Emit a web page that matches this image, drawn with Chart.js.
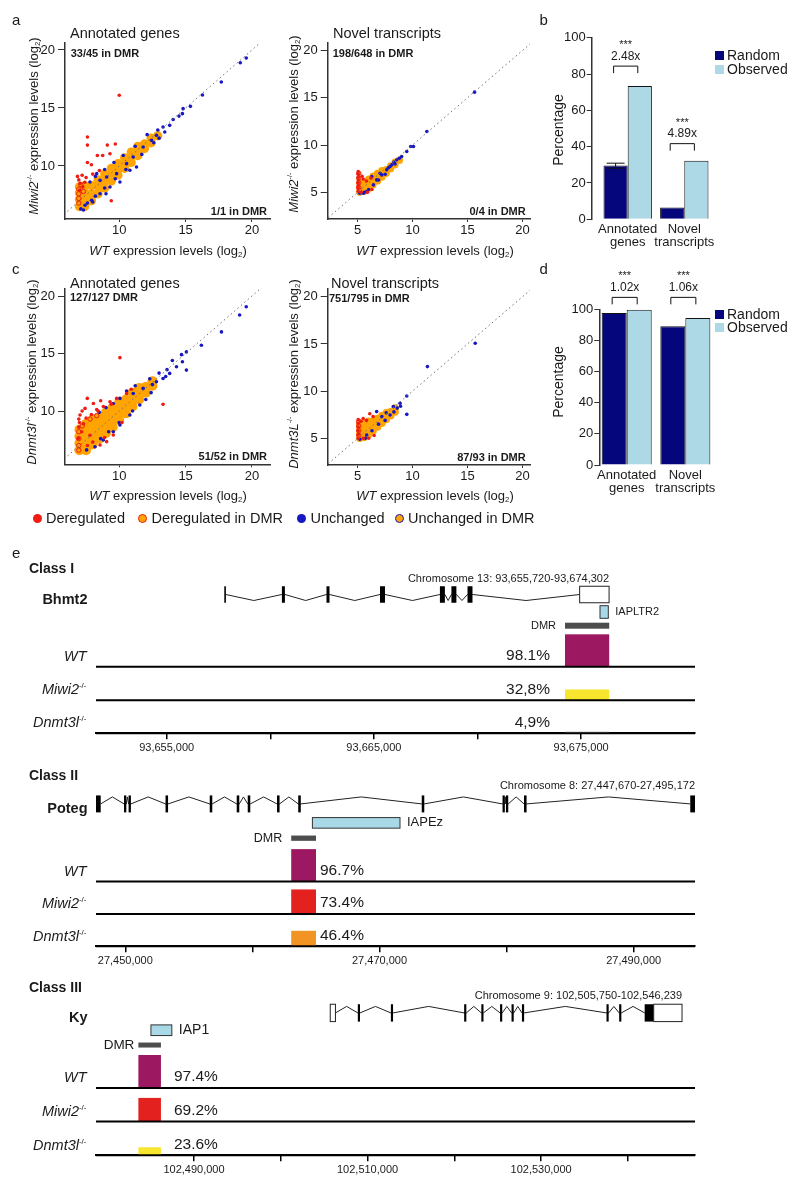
<!DOCTYPE html>
<html>
<head>
<meta charset="utf-8">
<title>Expression and DMR methylation</title>
<script src="https://cdn.jsdelivr.net/npm/chart.js@4.4.1/dist/chart.umd.min.js"></script>
<style>
  body { margin: 0; background: #fff; }
  #page { position: relative; width: 800px; height: 1187px; overflow: hidden;
          font-family: "Liberation Sans", Arial, sans-serif; color: #1a1a1a; }
  #page canvas { position: absolute; }
  .t { position: absolute; white-space: nowrap; line-height: 1; }
  .t sup { font-size: 0.55em; vertical-align: 0.75em; line-height: 0; font-style: normal; }
  .t sub { font-size: 0.6em; vertical-align: -0.3em; line-height: 0; }
  .sq { position: absolute; width: 9px; height: 9px; }
  .dot { position: absolute; width: 9px; height: 9px; border-radius: 50%; box-sizing: border-box; }
</style>
</head>
<body>
<div id="page"></div>
<script>
const FONT = '"Liberation Sans", Arial, sans-serif';
const INK = '#1a1a1a';
const RED = '#f01c14', ORANGE = '#ffa400', BLUE = '#1717c4';
const NAVY = '#06067c', LIGHT = '#add8e6', REPEAT = '#a9d8e7';

// ---------- a / c : log2 expression, [WT, mutant] ----------
const annotMiwiDereg = [
  [10.0, 16.1], [7.6, 12.5], [7.6, 11.8], [9.1, 11.8], [9.7, 11.9], [9.3, 11.05],
  [8.35, 10.9], [8.75, 10.9], [7.6, 10.3], [7.9, 10.1], [7.2, 9.2], [6.85, 9.1],
  [9.4, 7.0], [7.05, 8.5], [7.4, 8.6], [7.0, 7.9], [7.25, 8.2], [8.0, 9.3],
  [7.5, 9.0], [6.95, 8.8], [8.5, 9.6]
];
const annotMiwiDeregDmr = [[6.95, 6.8], [6.95, 7.2], [6.95, 7.6], [6.95, 8.0], [7.1, 8.4], [7.3, 7.8]];
const annotMiwiUnch = [
  [19.57, 19.31], [19.12, 18.9], [17.69, 17.24], [16.27, 16.12], [14.81, 14.94], [15.36, 15.14],
  [14.76, 14.51], [14.06, 14.0], [13.3, 13.36], [13.43, 12.93], [12.8, 12.64], [12.43, 12.21],
  [11.8, 11.64], [11.05, 10.78], [10.55, 10.2], [9.8, 9.34], [9.05, 9.05], [8.55, 8.76],
  [11.3, 9.91], [10.8, 9.63], [10.05, 8.62], [9.3, 8.19], [8.55, 7.61], [7.92, 7.04],
  [7.42, 6.61], [8.3, 9.34], [7.79, 8.62], [12.1, 12.7], [12.9, 13.1], [13.8, 13.5],
  [11.2, 11.7], [10.3, 10.9], [9.6, 10.3], [8.9, 9.7], [8.2, 9.1], [10.5, 9.7],
  [11.7, 11.0], [12.6, 12.0], [9.7, 8.9], [8.9, 8.1], [8.2, 7.4], [7.6, 6.8],
  [7.1, 6.3], [7.3, 6.2], [8.0, 6.9], [14.5, 14.3], [13.0, 12.4], [9.0, 7.6]
];
const annotMiwiUnchDmr = [
  [7.0, 6.5], [7.0, 7.1], [7.0, 7.7], [7.0, 8.2], [7.4, 6.5], [7.4, 7.1], [7.4, 7.7], [7.4, 8.3],
  [7.9, 7.0], [7.9, 7.6], [7.9, 8.3], [8.4, 7.6], [8.4, 8.2], [8.4, 8.8], [8.9, 8.1], [8.9, 8.7],
  [8.9, 9.3], [9.4, 8.7], [9.4, 9.2], [9.4, 9.8], [9.9, 9.2], [9.9, 9.7], [9.9, 10.2], [10.4, 9.8],
  [10.4, 10.3], [10.4, 10.7], [10.9, 10.3], [10.9, 10.8], [10.9, 11.2], [11.4, 10.9], [11.4, 11.3],
  [11.4, 11.7], [11.9, 11.5], [11.9, 11.9], [12.4, 12.0], [12.4, 12.4], [12.9, 12.6]
];

const novelMiwiDereg = [
  [5.05, 7.2], [5.05, 6.9], [5.05, 6.6], [5.05, 6.3], [5.05, 6.0], [5.05, 5.7], [5.05, 5.4],
  [5.05, 5.1], [5.4, 6.7], [5.5, 6.4], [5.8, 6.2], [6.2, 6.5], [5.3, 5.0], [5.9, 5.0], [6.3, 5.3]
];
const novelMiwiDeregDmr = [[5.1, 7.0], [5.1, 6.5], [5.1, 6.0], [5.1, 5.5], [5.15, 5.2]];
const novelMiwiUnch = [
  [15.64, 15.6], [11.3, 11.43], [10.08, 9.84], [9.83, 9.84], [9.47, 9.31], [9.0, 8.78],
  [8.56, 8.43], [8.1, 7.9], [7.64, 7.37], [7.19, 6.84], [6.73, 6.31], [6.43, 5.78],
  [5.82, 5.07], [5.52, 4.9], [5.2, 4.9], [7.95, 7.72], [7.04, 7.0], [6.28, 6.66],
  [8.4, 8.0], [8.8, 8.6], [7.5, 6.9], [6.9, 6.3], [6.0, 5.3], [5.6, 5.0], [7.8, 7.6], [8.3, 8.2]
];
const novelMiwiUnchDmr = [
  [5.2, 5.0], [5.2, 5.5], [5.2, 6.0], [5.6, 5.1], [5.6, 5.6], [5.6, 6.1], [6.0, 5.4], [6.0, 5.9],
  [6.0, 6.4], [6.4, 5.8], [6.4, 6.3], [6.4, 6.7], [6.8, 6.2], [6.8, 6.7], [6.8, 7.0], [7.2, 6.6],
  [7.2, 7.0], [7.2, 7.3], [7.6, 7.0], [7.6, 7.4], [8.0, 7.5], [8.0, 7.8], [8.4, 7.9], [8.4, 8.2], [8.8, 8.4]
];

const annotDnmtDereg = [
  [10.05, 14.64], [7.59, 11.1], [8.3, 10.14], [10.55, 11.53], [13.3, 10.58], [7.04, 9.65],
  [9.8, 11.1], [9.3, 10.8], [8.8, 10.4], [7.3, 8.9], [7.17, 8.2], [6.92, 7.62], [7.79, 7.9],
  [9.05, 7.34], [8.55, 7.05], [9.55, 7.92], [7.42, 10.23], [8.05, 10.66], [7.0, 9.0],
  [7.5, 9.4], [7.9, 9.7], [8.4, 10.0], [7.2, 10.0], [6.95, 8.6], [6.95, 9.3], [8.0, 7.3],
  [8.9, 7.7], [10.2, 9.0], [7.6, 7.0], [9.4, 10.6], [8.6, 10.9], [10.9, 11.9]
];
const annotDnmtDeregDmr = [[6.95, 6.6], [6.95, 7.0], [6.95, 7.6], [6.95, 8.2], [7.2, 8.7], [7.8, 9.3], [8.3, 9.6]];
const annotDnmtUnch = [
  [19.07, 18.35], [19.57, 19.07], [17.7, 16.88], [16.19, 15.72], [15.06, 15.14], [14.69, 14.9],
  [14.76, 14.28], [15.06, 13.56], [14.31, 13.85], [13.8, 13.27], [13.3, 12.83], [12.8, 12.55],
  [11.8, 11.97], [11.05, 11.53], [11.55, 10.52], [10.8, 9.65], [10.05, 8.78], [9.55, 8.2],
  [8.8, 7.48], [8.17, 6.9], [7.54, 6.62], [10.55, 11.74], [10.05, 11.1], [9.55, 10.66],
  [12.3, 12.8], [13.0, 13.3], [12.4, 11.6], [13.6, 13.6], [11.2, 12.2], [12.0, 11.0],
  [9.0, 10.3], [8.5, 9.9], [10.0, 9.0], [11.0, 10.0], [9.2, 8.2], [8.6, 7.6], [12.5, 12.3],
  [14.0, 14.4], [13.5, 13.0]
];
const annotDnmtUnchDmr = [
  [7.0, 6.6], [7.0, 7.2], [7.0, 7.8], [7.0, 8.4], [7.5, 6.6], [7.5, 7.2], [7.5, 7.8], [7.5, 8.4],
  [7.5, 8.9], [8.0, 7.1], [8.0, 7.7], [8.0, 8.3], [8.0, 8.9], [8.0, 9.3], [8.5, 7.6], [8.5, 8.2],
  [8.5, 8.8], [8.5, 9.4], [9.0, 8.1], [9.0, 8.7], [9.0, 9.3], [9.0, 9.9], [9.5, 8.6], [9.5, 9.2],
  [9.5, 9.8], [9.5, 10.3], [10.0, 9.2], [10.0, 9.8], [10.0, 10.4], [10.0, 10.8], [10.5, 9.8],
  [10.5, 10.4], [10.5, 11.0], [11.0, 10.4], [11.0, 11.0], [11.0, 11.6], [11.5, 11.0], [11.5, 11.5],
  [11.5, 12.0], [12.0, 11.6], [12.0, 12.1], [12.5, 12.2], [12.5, 12.6]
];

const novelDnmtDereg = [
  [5.5, 7.1], [6.4, 7.3], [6.1, 7.6], [5.8, 6.9], [5.05, 7.0], [5.05, 6.6], [5.05, 6.2],
  [5.05, 5.8], [5.05, 5.4], [5.05, 5.0], [5.5, 5.0], [6.0, 5.0], [6.5, 5.3], [5.3, 6.8]
];
const novelDnmtDeregDmr = [[5.1, 6.8], [5.1, 6.3], [5.1, 5.8], [5.1, 5.3]];
const novelDnmtUnch = [
  [15.7, 15.07], [11.35, 12.6], [9.47, 9.49], [9.47, 7.54], [8.86, 8.71], [8.25, 8.36],
  [7.95, 7.47], [6.73, 7.83], [5.82, 5.35], [8.6, 8.2], [7.6, 7.7], [7.2, 7.3], [8.9, 8.4],
  [6.9, 6.5], [7.5, 6.9], [6.3, 5.8], [5.2, 4.9], [5.7, 5.0], [8.3, 7.8]
];
const novelDnmtUnchDmr = [
  [5.2, 5.0], [5.2, 5.5], [5.2, 6.0], [5.2, 6.5], [5.6, 5.1], [5.6, 5.6], [5.6, 6.1], [5.6, 6.6],
  [6.0, 5.4], [6.0, 5.9], [6.0, 6.4], [6.0, 6.8], [6.4, 5.8], [6.4, 6.3], [6.4, 6.8], [6.8, 6.2],
  [6.8, 6.7], [6.8, 7.1], [7.2, 6.6], [7.2, 7.0], [7.2, 7.4], [7.6, 7.0], [7.6, 7.4], [7.6, 7.7],
  [8.0, 7.4], [8.0, 7.8], [8.4, 7.8], [8.4, 8.2]
];

const diagEnds = [2, 22];
const annotTicks = [10, 15, 20];
const novelTicks = [5, 10, 15, 20];

// ---------- b / d : % in DMR, random vs observed ----------
const barCats = [['Annotated', 'genes'], ['Novel', 'transcripts']];
const pctTicks = [0, 20, 40, 60, 80, 100];
const miwiRandom = [29.6, 6.5];
const miwiRandomErr = [[28.1, 30.9], null];
const miwiObserved = [73.4, 32.2];
const miwiRatio = ['2.48x', '4.89x'];
const dnmtRandom = [97.8, 89.3];
const dnmtRandomErr = [null, null];
const dnmtObserved = [99.8, 94.6];
const dnmtRatio = ['1.02x', '1.06x'];
const sigMarks = ['***', '***'];

// ---------- e : gene models and DMR methylation ----------
const rowNames = ['<i>WT</i>', '<i>Miwi2</i><sup>-/-</sup>', '<i>Dnmt3l</i><sup>-/-</sup>'];

const bhmt2Exons = [[93657780, 93657850], [93660560, 93660705], [93662712, 93662857], [93665295, 93665535],
  [93668186, 93668426], [93668741, 93668981], [93669518, 93669758]];
const bhmt2Utr = [[93674930, 93676350]];
const bhmt2Repeat = [93675912, 93676313];
const bhmt2Dmr = [93674223, 93676356];
const bhmt2Meth = [98.1, 32.8, 4.9];
const bhmt2MethText = ['98.1%', '32,8%', '4,9%'];
const bhmt2Ticks = [93655000, 93660000, 93665000, 93670000, 93675000];
const bhmt2Labelled = [93655000, 93665000, 93675000];

const potegExons = [[27447695, 27448065], [27449900, 27450080], [27450260, 27450440], [27453165, 27453365],
  [27456643, 27456843], [27458767, 27458967], [27459633, 27459833], [27461938, 27462138],
  [27463606, 27463806], [27473323, 27473523], [27479680, 27479860], [27479950, 27480130],
  [27481371, 27481571], [27494450, 27494823]];
const potegUtr = [];
const potegRepeat = [27464721, 27471613];
const potegDmr = [27463053, 27465004];
const potegMeth = [96.7, 73.4, 46.4];
const potegMethText = ['96.7%', '73.4%', '46.4%'];
const potegTicks = [27450000, 27460000, 27470000, 27480000, 27490000];
const potegLabelled = [27450000, 27470000, 27490000];

const kyExons = [[102508878, 102509128], [102512688, 102512938], [102521133, 102521383],
  [102523111, 102523361], [102525270, 102525520], [102526593, 102526843], [102527791, 102528041],
  [102537536, 102537786], [102538995, 102539245], [102541934, 102542974]];
const kyUtr = [[102505700, 102506300], [102542974, 102546239]];
const kyRepeat = [102485037, 102487445];
const kyDmr = [102483590, 102486190];
const kyMeth = [97.4, 69.2, 23.6];
const kyMethText = ['97.4%', '69.2%', '23.6%'];
const kyTicks = [102490000, 102500000, 102510000, 102520000, 102530000, 102540000];
const kyLabelled = [102490000, 102510000, 102530000];

// ---------- helpers ----------
const page = document.getElementById('page');

function canvasAt(left, top, w, h) {
  const c = document.createElement('canvas');
  c.width = w; c.height = h;
  c.style.left = left + 'px'; c.style.top = top + 'px';
  c.style.width = w + 'px'; c.style.height = h + 'px';
  page.appendChild(c);
  return c;
}

function text(html, x, y, o = {}) {
  const d = document.createElement('div');
  d.className = 't';
  d.innerHTML = html;
  d.style.left = x + 'px';
  d.style.top = y + 'px';
  d.style.fontSize = (o.size || 14) + 'px';
  if (o.bold) d.style.fontWeight = 'bold';
  if (o.italic) d.style.fontStyle = 'italic';
  const ax = o.align === 'right' ? '-100%' : o.align === 'center' ? '-50%' : '0';
  d.style.transform = `translate(${ax},-50%)` + (o.rotate ? ` rotate(${o.rotate}deg)` : '');
  page.appendChild(d);
}

function box(cls, x, y, color, border) {
  const d = document.createElement('div');
  d.className = cls;
  d.style.left = x + 'px';
  d.style.top = y + 'px';
  d.style.background = color;
  if (border) d.style.border = '1.6px solid ' + border;
  page.appendChild(d);
}

const pts = arr => arr.map(([x, y]) => ({ x, y }));
const base = { animation: false, responsive: false, devicePixelRatio: 1, events: [] };
const noPlugins = { legend: { display: false }, tooltip: { enabled: false } };

function linAxis(range, ticks, fit, tickLength, padding) {
  return {
    type: 'linear', min: range[0], max: range[1],
    afterBuildTicks: s => { s.ticks = ticks.map(v => ({ value: v })); },
    afterFit: fit,
    ticks: { font: { family: FONT, size: 13 }, color: INK, padding, maxRotation: 0, autoSkip: false },
    grid: { drawOnChartArea: false, tickLength, color: '#333', lineWidth: 1 },
    border: { color: '#333', width: 1.5 }
  };
}

// ---------- scatter panels ----------
function scatterPanel(p) {
  const [cl, ct, cw, ch] = p.box;
  const [al, at, ar, ab] = p.area;
  new Chart(canvasAt(cl, ct, cw, ch), {
    type: 'scatter',
    data: {
      datasets: [
        { type: 'line', data: diagEnds.map(v => ({ x: v, y: v })), borderColor: '#707070',
          borderWidth: 1, borderDash: [1.5, 3], pointRadius: 0 },
        { data: pts(p.dereg), backgroundColor: RED, pointRadius: 1.8, borderWidth: 0 },
        { data: pts(p.deregDmr), backgroundColor: ORANGE, borderColor: RED, pointRadius: 2.2, borderWidth: 1 },
        { data: pts(p.unch), backgroundColor: BLUE, pointRadius: 1.8, borderWidth: 0 },
        { data: pts(p.unchDmr), backgroundColor: ORANGE, pointRadius: p.bandR, borderWidth: 0 }
      ]
    },
    options: {
      ...base,
      layout: { padding: { left: 0, top: at - ct, right: cl + cw - ar, bottom: 0 } },
      plugins: noPlugins,
      scales: {
        x: linAxis(p.xr, p.ticks, s => { s.height = ct + ch - ab; }, 3, 1),
        y: linAxis(p.yr, p.ticks, s => { s.width = al - cl; }, 7, 3)
      }
    }
  });
}

scatterPanel({ box: [0, 0, 280, 245], area: [65, 43, 270, 219], xr: [5.91, 21.36], yr: [5.43, 20.6],
  ticks: annotTicks, bandR: 4.6,
  dereg: annotMiwiDereg, deregDmr: annotMiwiDeregDmr, unch: annotMiwiUnch, unchDmr: annotMiwiUnchDmr });
scatterPanel({ box: [262, 0, 275, 245], area: [327.7, 43, 530, 219], xr: [2.27, 20.69], yr: [2.17, 20.8],
  ticks: novelTicks, bandR: 3.6,
  dereg: novelMiwiDereg, deregDmr: novelMiwiDeregDmr, unch: novelMiwiUnch, unchDmr: novelMiwiUnchDmr });
scatterPanel({ box: [0, 245, 280, 245], area: [65, 288.3, 270, 464.3], xr: [5.91, 21.36], yr: [5.37, 20.67],
  ticks: annotTicks, bandR: 5,
  dereg: annotDnmtDereg, deregDmr: annotDnmtDeregDmr, unch: annotDnmtUnch, unchDmr: annotDnmtUnchDmr });
scatterPanel({ box: [262, 245, 275, 245], area: [327.7, 288.3, 530, 465], xr: [2.27, 20.69], yr: [2.17, 20.9],
  ticks: novelTicks, bandR: 3.8,
  dereg: novelDnmtDereg, deregDmr: novelDnmtDeregDmr, unch: novelDnmtUnch, unchDmr: novelDnmtUnchDmr });

// ---------- bar panels ----------
function drawBarDecor(chart, p) {
  const ctx = chart.ctx, y = chart.scales.y;
  const rnd = chart.getDatasetMeta(0).data, obs = chart.getDatasetMeta(1).data;
  ctx.save();
  ctx.strokeStyle = '#111';
  ctx.lineWidth = 1;
  p.err.forEach((e, i) => {
    if (!e) return;
    const x = rnd[i].x, y1 = y.getPixelForValue(e[0]), y2 = y.getPixelForValue(e[1]);
    ctx.beginPath();
    ctx.moveTo(x, y1); ctx.lineTo(x, y2);
    ctx.moveTo(x - 9, y1); ctx.lineTo(x + 9, y1);
    ctx.moveTo(x - 9, y2); ctx.lineTo(x + 9, y2);
    ctx.stroke();
  });
  ctx.fillStyle = INK;
  ctx.textAlign = 'center';
  ctx.textBaseline = 'middle';
  p.ratio.forEach((label, i) => {
    const x1 = rnd[i].x - 2, x2 = obs[i].x - 2;
    const yb = y.getPixelForValue(p.bracketAt[i]), yt = yb - 7;
    ctx.beginPath();
    ctx.moveTo(x1, yb); ctx.lineTo(x1, yt); ctx.lineTo(x2, yt); ctx.lineTo(x2, yb);
    ctx.stroke();
    ctx.font = `12px ${FONT}`;
    ctx.fillText(label, (x1 + x2) / 2, yt - 9.5);
    ctx.font = `11px ${FONT}`;
    ctx.fillText(sigMarks[i], (x1 + x2) / 2, yt - 21);
  });
  ctx.restore();
}

function barPanel(p) {
  const [cl, ct, cw, ch] = p.box;
  const [al, at, ar, ab] = p.area;
  const ds = (vals, color) => ({
    data: vals.map((v, i) => ({ x: i, y: v })), backgroundColor: color, borderColor: '#111',
    borderWidth: 1, barPercentage: 1, categoryPercentage: p.catPct
  });
  new Chart(canvasAt(cl, ct, cw, ch), {
    type: 'bar',
    data: { datasets: [ds(p.random, NAVY), ds(p.observed, LIGHT)] },
    options: {
      ...base,
      layout: { padding: { left: 0, top: at - ct, right: cl + cw - ar, bottom: 0 } },
      plugins: noPlugins,
      scales: {
        x: {
          type: 'linear', min: p.xr[0], max: p.xr[1], offset: false,
          afterBuildTicks: s => { s.ticks = barCats.map((_, i) => ({ value: i })); },
          afterFit: s => { s.height = ct + ch - ab; },
          ticks: { callback: v => barCats[v], font: { family: FONT, size: 13, lineHeight: 1.0 },
                   color: INK, padding: 4, maxRotation: 0, autoSkip: false },
          grid: { display: false, drawTicks: false, tickLength: 0, offset: false }, border: { display: false }
        },
        y: linAxis([0, 100], pctTicks, s => { s.width = al - cl; }, 5, 1)
      }
    },
    plugins: [{ id: 'barDecor', afterDatasetsDraw: chart => drawBarDecor(chart, p) }]
  });
}

barPanel({ box: [540, 0, 260, 260], area: [591.7, 37.7, 720, 219.3], xr: [-0.636, 1.631], catPct: 0.855,
  random: miwiRandom, observed: miwiObserved, err: miwiRandomErr, ratio: miwiRatio, bracketAt: [80.5, 37.8] });
barPanel({ box: [540, 250, 260, 255], area: [599.3, 309.5, 720, 465], xr: [-0.467, 1.591], catPct: 0.853,
  random: dnmtRandom, observed: dnmtObserved, err: dnmtRandomErr, ratio: dnmtRatio, bracketAt: [103.3, 103.3] });

// ---------- gene / methylation tracks ----------
function methColor(pct) {
  if (pct >= 90) return '#9c1860';
  if (pct >= 60) return '#e3221f';
  if (pct >= 40) return '#f29424';
  if (pct >= 10) return '#f7e52e';
  return '#a8a8a8';
}

function drawTrack(chart, g) {
  const ctx = chart.ctx, xs = chart.scales.x, ys = chart.scales.y, L = g.layout;
  const X = v => xs.getPixelForValue(v), Y = v => ys.getPixelForValue(v);
  const left = chart.chartArea.left, right = chart.chartArea.right;
  const rect = (s, e, y0, y1) => [X(s), Y(y0), Math.max(1.6, X(e) - X(s)), Y(y1) - Y(y0)];
  ctx.save();
  // methylation bars on each row
  g.meth.forEach((pct, i) => {
    ctx.fillStyle = methColor(pct);
    ctx.fillRect(...rect(g.dmr[0], g.dmr[1], L.rows[i] - pct * L.barPx / 100, L.rows[i]));
  });
  ctx.strokeStyle = '#000';
  ctx.lineWidth = 2;
  L.rows.forEach(r => {
    ctx.beginPath(); ctx.moveTo(left, Y(r)); ctx.lineTo(right, Y(r)); ctx.stroke();
  });
  ctx.fillStyle = INK;
  ctx.textBaseline = 'middle';
  ctx.font = `${L.pctFont}px ${FONT}`;
  g.methText.forEach((s, i) => {
    const y = Y(L.rows[i] - 11);
    if (L.pctSide === 'left') { ctx.textAlign = 'right'; ctx.fillText(s, X(g.dmr[0]) - L.pctGap, y); }
    else { ctx.textAlign = 'left'; ctx.fillText(s, X(g.dmr[1]) + L.pctGap, y); }
  });
  // DMR
  ctx.fillStyle = '#4d4d4d';
  ctx.fillRect(...rect(g.dmr[0], g.dmr[1], L.dmrY[0], L.dmrY[1]));
  ctx.fillStyle = INK;
  ctx.textAlign = 'right';
  ctx.font = `${L.dmrFont}px ${FONT}`;
  ctx.fillText('DMR', X(g.dmr[0]) - L.dmrGap, Y((L.dmrY[0] + L.dmrY[1]) / 2));
  // repeat element
  const rr = rect(g.repeat[0], g.repeat[1], L.repY[0], L.repY[1]);
  ctx.fillStyle = REPEAT;
  ctx.fillRect(...rr);
  ctx.strokeStyle = '#333';
  ctx.lineWidth = 1;
  ctx.strokeRect(...rr);
  ctx.fillStyle = INK;
  ctx.textAlign = 'left';
  ctx.font = `${L.repFont}px ${FONT}`;
  ctx.fillText(g.repeatName, X(g.repeat[1]) + 7, Y((L.repY[0] + L.repY[1]) / 2));
  // exons
  const h = L.exonH / 2;
  ctx.fillStyle = '#000';
  g.exons.forEach(([s, e]) => ctx.fillRect(...rect(s, e, L.geneY - h, L.geneY + h)));
  g.utr.forEach(([s, e]) => {
    const r = rect(s, e, L.geneY - h, L.geneY + h);
    ctx.fillStyle = '#fff';
    ctx.fillRect(...r);
    ctx.strokeStyle = '#222';
    ctx.strokeRect(...r);
  });
  // region label
  ctx.fillStyle = INK;
  ctx.textAlign = 'right';
  ctx.font = `11px ${FONT}`;
  ctx.fillText(g.chrom, X(L.chromAt), Y(L.chromY));
  ctx.restore();
}

function trackPanel(g) {
  const L = g.layout;
  const parts = g.exons.concat(g.utr).sort((a, b) => a[0] - b[0]);
  const intron = [];
  for (let i = 0; i < parts.length - 1; i++) {
    const a = parts[i][1], b = parts[i + 1][0];
    if (b <= a) continue;
    intron.push({ x: a, y: L.geneY }, { x: (a + b) / 2, y: L.geneY + L.apex }, { x: b, y: L.geneY });
  }
  new Chart(canvasAt(0, L.top, 800, L.height), {
    type: 'scatter',
    data: { datasets: [{ data: intron, showLine: true, borderColor: '#222', borderWidth: 1, pointRadius: 0 }] },
    options: {
      ...base,
      layout: { padding: { left: 96, right: 105, top: 0, bottom: 0 } },
      plugins: noPlugins,
      scales: {
        x: {
          type: 'linear', min: g.xr[0], max: g.xr[1],
          afterBuildTicks: s => { s.ticks = g.ticks.map(v => ({ value: v })); },
          afterFit: s => { s.height = L.top + L.height - L.axisY; },
          ticks: { callback: v => g.labelled.includes(v) ? v.toLocaleString('en-US') : '',
                   font: { family: FONT, size: 11 }, color: INK, padding: 2, maxRotation: 0, autoSkip: false },
          grid: { drawOnChartArea: false, tickLength: 6, color: '#000', lineWidth: 1.5 },
          border: { color: '#000', width: 2 }
        },
        y: { type: 'linear', display: false, min: L.top, max: L.axisY, reverse: true }
      }
    },
    plugins: [{ id: 'track', afterDatasetsDraw: chart => drawTrack(chart, g) }]
  });
  text(g.title, 29, L.titleY, { size: 14, bold: true });
  text(g.gene, 87.5, L.geneY + 4, { size: 14.5, bold: true, align: 'right' });
  rowNames.forEach((n, i) => text(n, 86.5, L.rows[i] - 11, { size: 14.5, italic: true, align: 'right' }));
}

trackPanel({
  title: 'Class I', gene: 'Bhmt2', chrom: 'Chromosome 13: 93,655,720-93,674,302', repeatName: 'IAPLTR2',
  exons: bhmt2Exons, utr: bhmt2Utr, repeat: bhmt2Repeat, dmr: bhmt2Dmr, meth: bhmt2Meth, methText: bhmt2MethText,
  xr: [93651588, 93680497], ticks: bhmt2Ticks, labelled: bhmt2Labelled,
  layout: { top: 540, height: 220, axisY: 733.3, titleY: 568, geneY: 594.5, apex: 6, exonH: 16.5,
            repY: [605.7, 618.3], dmrY: [622.7, 628.7], rows: [666.7, 700.3, 733.3], barPx: 33,
            pctSide: 'left', pctGap: 15, pctFont: 15.5, dmrFont: 11, dmrGap: 9, repFont: 11,
            chromAt: 93676350, chromY: 578.5 }
});
trackPanel({
  title: 'Class II', gene: 'Poteg', chrom: 'Chromosome 8: 27,447,670-27,495,172', repeatName: 'IAPEz',
  exons: potegExons, utr: potegUtr, repeat: potegRepeat, dmr: potegDmr, meth: potegMeth, methText: potegMethText,
  xr: [27447695, 27494823], ticks: potegTicks, labelled: potegLabelled,
  layout: { top: 765, height: 208.4, axisY: 946.7, titleY: 775, geneY: 804, apex: -7, exonH: 17,
            repY: [817.7, 828.3], dmrY: [835.7, 841], rows: [881.7, 914.3, 946.7], barPx: 33.5,
            pctSide: 'right', pctGap: 4, pctFont: 15.5, dmrFont: 12.5, dmrGap: 9, repFont: 13,
            chromAt: 27494823, chromY: 786 }
});
trackPanel({
  title: 'Class III', gene: 'Ky', chrom: 'Chromosome 9: 102,505,750-102,546,239', repeatName: 'IAP1',
  exons: kyExons, utr: kyUtr, repeat: kyRepeat, dmr: kyDmr, meth: kyMeth, methText: kyMethText,
  xr: [102478707, 102547734], ticks: kyTicks, labelled: kyLabelled,
  layout: { top: 975, height: 207.4, axisY: 1155.7, titleY: 986.7, geneY: 1013, apex: -6.5, exonH: 17.4,
            repY: [1025, 1035.7], dmrY: [1042.7, 1047.7], rows: [1088.3, 1121.7, 1155.7], barPx: 34,
            pctSide: 'right', pctGap: 13, pctFont: 15.5, dmrFont: 13.5, dmrGap: 4, repFont: 14,
            chromAt: 102546239, chromY: 995.7 }
});

// ---------- static labels ----------
text('a', 12, 19, { size: 15 });
text('b', 539.5, 19, { size: 15 });
text('c', 12, 268, { size: 15 });
text('d', 539.5, 268, { size: 15 });
text('e', 12, 552, { size: 15 });

text('Annotated genes', 70, 33, { size: 14.5 });
text('Novel transcripts', 333, 33, { size: 14.5 });
text('Annotated genes', 70, 283, { size: 14.5 });
text('Novel transcripts', 331, 283, { size: 14.5 });

text('33/45 in DMR', 70.7, 53.3, { size: 11, bold: true });
text('1/1 in DMR', 267, 211, { size: 11, bold: true, align: 'right' });
text('198/648 in DMR', 332.7, 53, { size: 11, bold: true });
text('0/4 in DMR', 525.7, 211, { size: 11, bold: true, align: 'right' });
text('127/127 DMR', 70, 297.3, { size: 11, bold: true });
text('51/52 in DMR', 267, 456, { size: 11, bold: true, align: 'right' });
text('751/795 in DMR', 329, 297.7, { size: 11, bold: true });
text('87/93 in DMR', 525.7, 456.7, { size: 11, bold: true, align: 'right' });

const wtTitle = '<i>WT</i> expression levels (log<sub>2</sub>)';
text(wtTitle, 168, 250, { size: 13, align: 'center' });
text(wtTitle, 435, 250, { size: 13, align: 'center' });
text(wtTitle, 168, 495, { size: 13, align: 'center' });
text(wtTitle, 435, 495, { size: 13, align: 'center' });
text('<i>Miwi2</i><sup>-/-</sup> expression levels (log<sub>2</sub>)', 33, 126, { size: 13, align: 'center', rotate: -90 });
text('<i>Miwi2</i><sup>-/-</sup> expression levels (log<sub>2</sub>)', 293, 124, { size: 13, align: 'center', rotate: -90 });
text('<i>Dnmt3l</i><sup>-/-</sup> expression levels (log<sub>2</sub>)', 31, 372, { size: 13, align: 'center', rotate: -90 });
text('<i>Dnmt3L</i><sup>-/-</sup> expression levels (log<sub>2</sub>)', 293, 374, { size: 13, align: 'center', rotate: -90 });

text('Percentage', 558.3, 130, { size: 14, align: 'center', rotate: -90 });
text('Percentage', 558.3, 382, { size: 14, align: 'center', rotate: -90 });
[[50.5, 'Random', NAVY], [65, 'Observed', LIGHT]].forEach(([y, s, c]) => {
  box('sq', 715, y, c); text(s, 727, y + 4, { size: 14 });
});
[[310, 'Random', NAVY], [323, 'Observed', LIGHT]].forEach(([y, s, c]) => {
  box('sq', 715, y, c); text(s, 727, y + 4, { size: 14 });
});

// scatter legend
[[37, 'Deregulated', RED, null], [142.6, 'Deregulated in DMR', ORANGE, RED],
 [301.5, 'Unchanged', BLUE, null], [399, 'Unchanged in DMR', ORANGE, BLUE]].forEach(([x, s, c, b]) => {
  box('dot', x - 4.5, 513.5, c, b);
  text(s, x + 9, 518, { size: 14.5 });
});
</script>
</body>
</html>
